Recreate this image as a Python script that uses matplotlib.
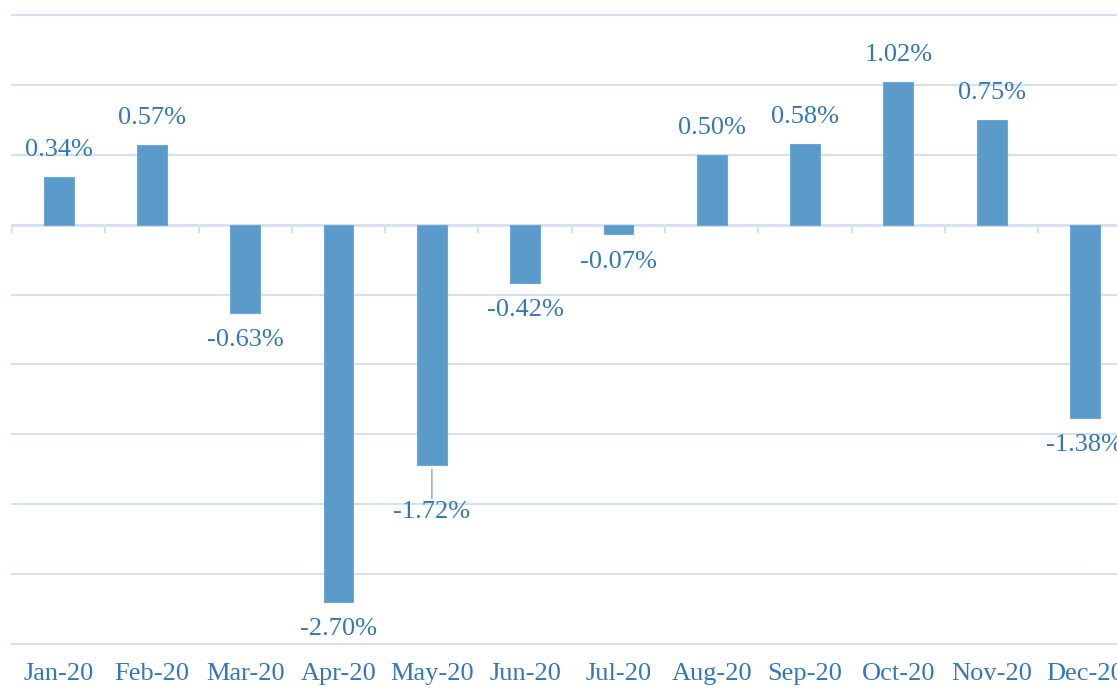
import matplotlib
matplotlib.use("Agg")
import matplotlib.pyplot as plt
import numpy as np

months = ["Jan-20", "Feb-20", "Mar-20", "Apr-20", "May-20", "Jun-20",
          "Jul-20", "Aug-20", "Sep-20", "Oct-20", "Nov-20", "Dec-20"]
returns = [0.34, 0.57, -0.63, -2.70, -1.72, -0.42, -0.07, 0.50, 0.58, 1.02, 0.75, -1.38]
y_ticks = [-3.0, -2.5, -2.0, -1.5, -1.0, -0.5, 0.0, 0.5, 1.0, 1.5]

bar_color = "#5b9bc9"
text_color = "#3477b9"
grid_color = "#d3e2f1"
font = "Liberation Serif"

fig = plt.figure(figsize=(11.17, 6.88), dpi=100)
# axes run past the right edge, like the cropped original
ax = fig.add_axes([12 / 1117, 1 - 644 / 688, 12 * 93.3 / 1117, 629 / 688])

x = np.arange(len(months))
ax.bar(x, returns, width=0.32, color=bar_color, edgecolor="#6fa8d6", linewidth=0.8, zorder=3)

ax.set_xlim(-0.5, len(months) - 0.5)
ax.set_ylim(y_ticks[0], y_ticks[-1])
ax.set_yticks(y_ticks)
ax.yaxis.grid(True, color=grid_color, linewidth=1.5, zorder=0)
for gl in ax.get_ygridlines():
    gl.set_clip_on(False)
ax.tick_params(axis="y", length=0, labelleft=False)
ax.axhline(0, color=grid_color, linewidth=2, zorder=2)

for s in ax.spines.values():
    s.set_visible(False)

ax.set_xticks(x)
ax.set_xticklabels(months, fontfamily=font, fontsize=19, color=text_color)
ax.tick_params(axis="x", length=0, pad=14)

# category boundary ticks hanging off the zero line
zero_frac = (0 - y_ticks[0]) / (y_ticks[-1] - y_ticks[0])
sec = ax.secondary_xaxis(zero_frac)
sec.set_xticks(np.arange(len(months) + 1) - 0.5)
sec.xaxis.set_ticks_position("bottom")
sec.tick_params(axis="x", direction="out", length=6, width=1.5, color=grid_color,
                labelbottom=False, labeltop=False)
sec.spines["bottom"].set_visible(False)
sec.spines["top"].set_visible(False)

# value labels, May's label sits lower with a leader line
for i, v in enumerate(returns):
    sign = 1 if v >= 0 else -1
    if months[i] == "May-20":
        ax.annotate(f"{v:.2f}%", xy=(i, v), xytext=(0, -34), textcoords="offset points",
                    ha="center", va="center", fontfamily=font, fontsize=19, color=text_color,
                    arrowprops=dict(arrowstyle="-", color="#8fb8dc", lw=1.2, shrinkA=0, shrinkB=3))
    else:
        ax.annotate(f"{v:.2f}%", xy=(i, v), xytext=(0, 19.5 * sign), textcoords="offset points",
                    ha="center", va="center", fontfamily=font, fontsize=19, color=text_color)

fig.savefig("out.png", dpi=100)
